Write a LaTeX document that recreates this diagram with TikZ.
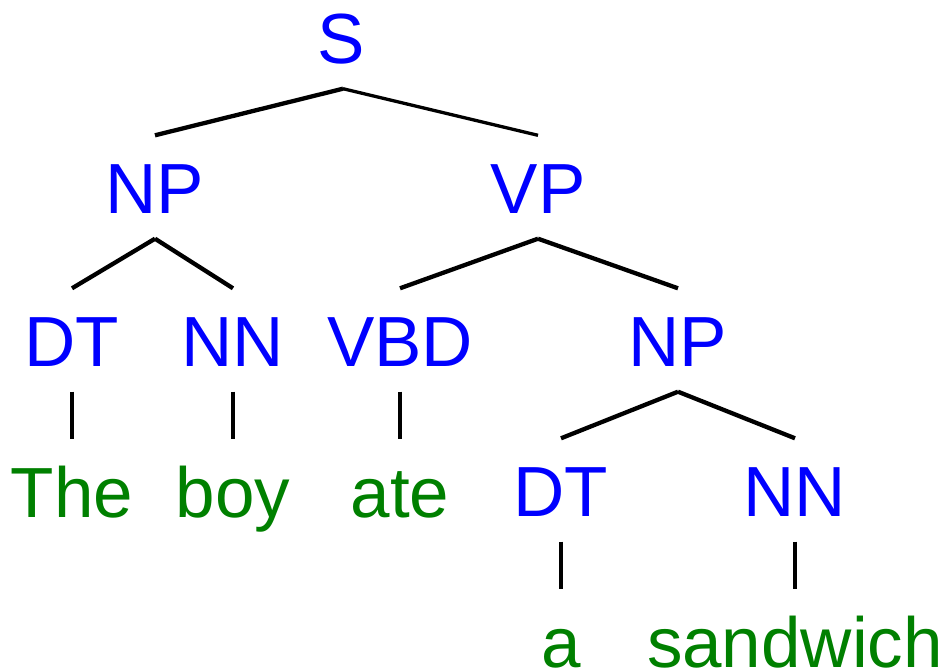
\documentclass[tikz,border=0pt]{standalone}
\usepackage{fontspec}
\setmainfont{Liberation Sans}
\definecolor{catblue}{RGB}{0,0,255}
\definecolor{wordgreen}{RGB}{0,128,0}
\begin{document}
\begin{tikzpicture}[x=1pt,y=-1pt,
  lab/.style={anchor=base,font=\fontsize{71}{80}\selectfont,text height=52pt,text depth=0pt,inner xsep=0pt,inner ysep=25.5pt},
  cat/.style={lab,text=catblue},
  word/.style={lab,text=wordgreen},
  edge/.style={draw=black,line width=4.3pt,line cap=butt}]
\useasboundingbox (0,0) rectangle (939,670);
\clip (0,0) rectangle (939,670);
\fill[white] (0,0) rectangle (939,670);
\node[cat] (S) at (341,63) {S};
\node[cat] (NP) at (155,213) {NP};
\node[cat] (VP) at (538,213) {VP};
\node[cat] (DT) at (72,366) {DT};
\node[cat] (NN) at (233,366) {NN};
\node[cat] (VBD) at (400,366) {VBD};
\node[cat] (NP2) at (678,366) {NP};
\node[word] (The) at (72,517) {The};
\node[word] (boy) at (233,517) {boy};
\node[word] (ate) at (400,517) {ate};
\node[cat] (DT2) at (561,516) {DT};
\node[cat] (NN2) at (795,516) {NN};
\node[word] (a) at (561,667) {a};
\node[word] (sandwich) at (795,667) {sandwich};
\draw[edge] ([xshift=2pt]S.south) -- (NP.north);
\draw[edge,line width=3.3pt] ([xshift=2pt]S.south) -- (VP.north);
\draw[edge] (NP.south) -- (DT.north);
\draw[edge] (NP.south) -- (NN.north);
\draw[edge] (VP.south) -- (VBD.north);
\draw[edge] (VP.south) -- (NP2.north);
\draw[edge] (DT.south) -- (The.north);
\draw[edge] (NN.south) -- (boy.north);
\draw[edge] (VBD.south) -- (ate.north);
\draw[edge] (NP2.south) -- (DT2.north);
\draw[edge] (NP2.south) -- (NN2.north);
\draw[edge] (DT2.south) -- (a.north);
\draw[edge] (NN2.south) -- (sandwich.north);
\end{tikzpicture}
\end{document}
